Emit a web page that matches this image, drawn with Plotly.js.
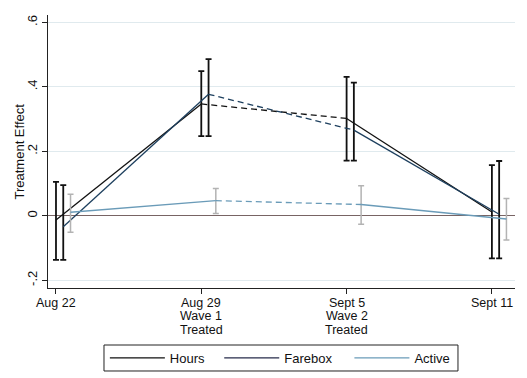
<!DOCTYPE html>
<html><head><meta charset="utf-8">
<script src="https://cdn.plot.ly/plotly-3.0.1.min.js"></script>
<style>html,body{margin:0;padding:0;background:#fff}#c{width:527px;height:378px}</style>
</head><body><div id="c"></div>
<script>
// category positions and tick labels (one list of lines per category)
const catPos = [0, 1, 2, 3];
const tickLines = [["Aug 22"], ["Aug 29", "Wave 1", "Treated"], ["Sept 5", "Wave 2", "Treated"], ["Sept 11"]];
const seriesNames = ["Hours", "Farebox", "Active"];
const offsets = [0, 0.05, 0.1];

// point estimates
const hours   = [-0.013, 0.347, 0.302, 0.012];
const farebox = [-0.034, 0.377, 0.266, 0.005];
const active  = [0.011, 0.047, 0.035, -0.010];

// confidence interval bounds
const hoursHi   = [0.105, 0.449, 0.431, 0.157];
const hoursLo   = [-0.137, 0.247, 0.171, -0.132];
const fareboxHi = [0.095, 0.486, 0.413, 0.170];
const fareboxLo = [-0.137, 0.247, 0.171, -0.132];
const activeHi  = [0.067, 0.085, 0.093, 0.054];
const activeLo  = [-0.051, 0.007, -0.026, -0.075];

const yTickVals = [-0.2, 0, 0.2, 0.4, 0.6];
const yTickText = ["-.2", "0", ".2", ".4", ".6"];
const yTitle = "Treatment Effect";

const lineColors = ["#111111", "#1d3f5e", "#6a9bb8"];
const legendLineColors = ["#111111", "#262b4a", "#6a9bb8"];
const errColors  = ["#111111", "#111111", "#b3b3b3"];
const legendIds = ["legend", "legend2", "legend3"];
const legendX = [0.199, 0.416, 0.663];   // container fractions

const vals = [hours, farebox, active];
const his = [hoursHi, fareboxHi, activeHi];
const los = [hoursLo, fareboxLo, activeLo];

const traces = [];
for (let s = 0; s < 3; s++) {
  const xs = catPos.map(p => p + offsets[s]);
  const ys = vals[s];
  traces.push({
    x: xs, y: ys, type: "scatter", mode: "markers",
    marker: {size: 1, opacity: 0},
    showlegend: false, hoverinfo: "skip",
    error_y: {type: "data", symmetric: false,
      array: ys.map((v, i) => his[s][i] - v),
      arrayminus: ys.map((v, i) => v - los[s][i]),
      color: errColors[s], thickness: s < 2 ? 1.8 : 1.5, width: 3}
  });
  traces.push({
    x: [xs[0], xs[1], null, xs[2], xs[3]],
    y: [ys[0], ys[1], null, ys[2], ys[3]],
    type: "scatter", mode: "lines", showlegend: false,
    line: {color: lineColors[s], width: 1.3}, connectgaps: false
  });
  traces.push({
    x: [xs[1], xs[2]], y: [ys[1], ys[2]],
    type: "scatter", mode: "lines", showlegend: false,
    line: {color: lineColors[s], width: 1.3, dash: "6px,4px"}
  });
  // legend-only entry
  traces.push({
    x: [null], y: [null], type: "scatter", mode: "lines", name: seriesNames[s],
    legend: legendIds[s], showlegend: true,
    line: {color: legendLineColors[s], width: 1.3}
  });
}

const font = {family: "Liberation Sans, Arial, sans-serif", size: 13, color: "#111"};
const tickFont = {family: "Liberation Sans, Arial, sans-serif", size: 12.5, color: "#111"};

const annotations = [];
tickLines.forEach((lines, i) => {
  lines.forEach((t, k) => {
    annotations.push({x: catPos[i], xref: "x", y: 0, yref: "paper",
      text: t, showarrow: false, xanchor: "center", yanchor: "middle",
      borderpad: 0, yshift: -14.5 - 13.8 * k, font: tickFont});
  });
});
annotations.push({x: 0, xref: "paper", y: 0.5, yref: "paper", text: yTitle,
  textangle: -90, showarrow: false, xanchor: "center", yanchor: "middle",
  xshift: -29, font: font});

const layout = {
  width: 527, height: 378,
  margin: {l: 48, r: 12, t: 15, b: 90},
  paper_bgcolor: "#fff", plot_bgcolor: "#fff",
  font: font,
  showlegend: true,
  annotations: annotations,
  shapes: [{type: "rect", xref: "paper", yref: "paper",
    x0: 0.1199, x1: 0.8779, y0: -0.304, y1: -0.2088,
    line: {color: "#222", width: 1}, fillcolor: "rgba(0,0,0,0)"}],
  xaxis: {range: [-0.055, 3.159], tickvals: catPos, showticklabels: false,
    showgrid: false, zeroline: false, showline: true, linecolor: "#222", linewidth: 1,
    ticks: "outside", ticklen: 5, tickcolor: "#222"},
  yaxis: {range: [-0.224, 0.623], tickvals: yTickVals, ticktext: yTickText,
    tickangle: -90, showgrid: true, gridcolor: "#e0eaee", gridwidth: 1,
    zeroline: true, zerolinecolor: "#786464", zerolinewidth: 1,
    showline: true, linecolor: "#222", linewidth: 1,
    ticks: "outside", ticklen: 5, tickcolor: "#222", tickfont: font}
};
legendIds.forEach((id, s) => {
  layout[id] = {orientation: "h", x: legendX[s], xref: "container", xanchor: "left",
    y: 0.053, yref: "container", yanchor: "middle",
    borderwidth: 0, bgcolor: "rgba(0,0,0,0)", font: font, itemwidth: 55};
});

Plotly.newPlot("c", traces, layout, {displayModeBar: false, staticPlot: true});
</script></body></html>
